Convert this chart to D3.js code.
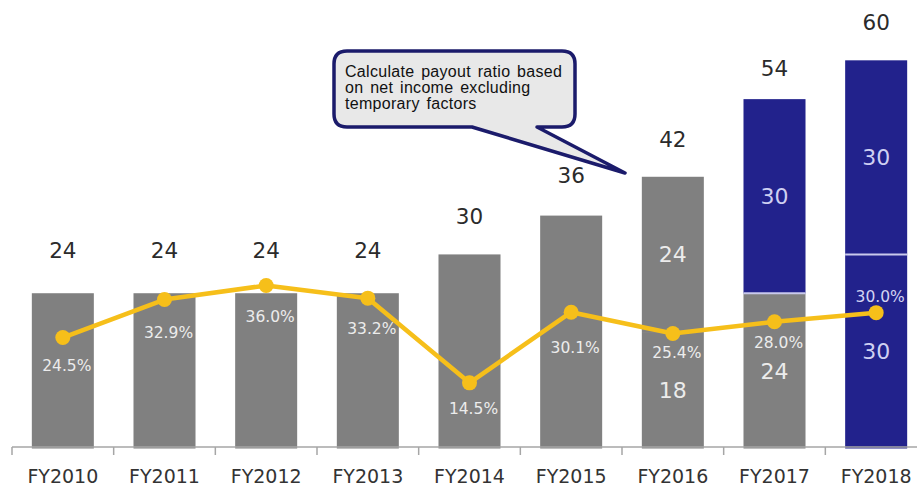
<!DOCTYPE html>
<html>
<head>
<meta charset="utf-8">
<script src="https://cdn.jsdelivr.net/npm/d3@7/dist/d3.min.js"></script>
<style>
  html, body { margin: 0; padding: 0; background: #fff; }
  svg { display: block; }
</style>
</head>
<body>
<svg id="chart" width="917" height="488"></svg>
<script>
// ---------------- data ----------------
const categories = ["FY2010","FY2011","FY2012","FY2013","FY2014","FY2015","FY2016","FY2017","FY2018"];
const lowerSegment = [24, 24, 24, 24, 30, 36, 18, 24, 30];
const upperSegment = [0, 0, 0, 0, 0, 0, 24, 30, 30];
const lowerType = ["old","old","old","old","old","old","old","old","new"];
const upperType = [null,null,null,null,null,null,"old","new","new"];
const totals = [24, 24, 24, 24, 30, 36, 42, 54, 60];
const payoutRatio = [24.5, 32.9, 36.0, 33.2, 14.5, 30.1, 25.4, 28.0, 30.0];
const payoutLabels = ["24.5%","32.9%","36.0%","33.2%","14.5%","30.1%","25.4%","28.0%","30.0%"];
const calloutLines = ["Calculate payout ratio based", "on net income excluding", "temporary factors"];

// ---------------- layout / style ----------------
const totalLabelGap = [35, 35, 35, 35, 30, 33, 30, 23, 30];
const pctLabelDy = [28, 33, 31, 30, 26, 35, 19, 21, -16];
const colors = { old: "#808080", new: "#22228c" };
const innerText = { old: "#ececec", new: "#cfd0f2" };
const lineColor = "#f6bf1a";

const svg = d3.select("#chart");
const x = d3.scaleBand().domain(categories).range([12, 927]).paddingInner(0.39).paddingOuter(0.195);
const y = d3.scaleLinear().domain([0, 66]).range([448.5, 21.5]);
const yp = d3.scaleLinear().domain([0, 94.3]).range([448.5, 21.5]);
const step = x.step(), bw = x.bandwidth();
const axisY = 447;

const rows = categories.map((c, i) => ({
  c, i, lo: lowerSegment[i], up: upperSegment[i], lt: lowerType[i], ut: upperType[i],
  total: totals[i], p: payoutRatio[i], pl: payoutLabels[i]
}));

// bars
const bars = svg.append("g");
rows.forEach(d => {
  bars.append("rect")
    .attr("x", x(d.c)).attr("width", bw)
    .attr("y", y(d.lo)).attr("height", y(0) - y(d.lo))
    .attr("fill", colors[d.lt]);
  if (d.up > 0) {
    bars.append("rect")
      .attr("x", x(d.c)).attr("width", bw)
      .attr("y", y(d.lo + d.up)).attr("height", y(d.lo) - y(d.lo + d.up))
      .attr("fill", colors[d.ut]);
    if (d.ut === "new") {
      bars.append("line")
        .attr("x1", x(d.c)).attr("x2", x(d.c) + bw)
        .attr("y1", y(d.lo)).attr("y2", y(d.lo))
        .attr("stroke", "#c9c9ec").attr("stroke-width", 2);
    }
  }
});

// axis
const axisG = svg.append("g");
axisG.append("line").attr("x1", 12).attr("x2", 917).attr("y1", axisY).attr("y2", axisY)
  .attr("stroke", "#a6a6a6").attr("stroke-width", 1.5);
categories.forEach(c => {
  const bx = x(c) + bw / 2 - step / 2;
  axisG.append("line").attr("x1", bx).attr("x2", bx).attr("y1", axisY).attr("y2", axisY + 8)
    .attr("stroke", "#a6a6a6").attr("stroke-width", 1.5);
});
const ax = svg.append("g").attr("transform", `translate(0,${axisY})`)
  .call(d3.axisBottom(x).tickSize(0).tickPadding(0));
ax.select(".domain").remove();
ax.selectAll("text")
  .attr("y", 36).attr("dy", null)
  .attr("font-family", "DejaVu Sans, Verdana, sans-serif")
  .attr("font-size", 19).attr("fill", "#333");

// total labels
svg.append("g").selectAll("text").data(rows).join("text")
  .attr("x", d => x(d.c) + bw / 2)
  .attr("y", d => y(d.total) - totalLabelGap[d.i])
  .attr("text-anchor", "middle")
  .attr("font-family", "DejaVu Sans, Verdana, sans-serif")
  .attr("font-size", 21.5).attr("fill", "#2b2b2b")
  .text(d => d.total);

// inner segment labels (stacked bars)
const inner = svg.append("g");
rows.filter(d => d.up > 0).forEach(d => {
  [[0, d.lo, d.lt], [d.lo, d.lo + d.up, d.ut]].forEach(([a, b, t]) => {
    inner.append("text")
      .attr("x", x(d.c) + bw / 2)
      .attr("y", (y(a) + y(b)) / 2)
      .attr("dy", "0.36em")
      .attr("text-anchor", "middle")
      .attr("font-family", "DejaVu Sans, Verdana, sans-serif")
      .attr("font-size", 22).attr("fill", innerText[t])
      .text(b - a);
  });
});

// payout ratio line
const cx = d => x(d.c) + bw / 2;
svg.append("path").datum(rows)
  .attr("d", d3.line().x(cx).y(d => yp(d.p)))
  .attr("fill", "none").attr("stroke", lineColor).attr("stroke-width", 4.5)
  .attr("stroke-linejoin", "round");
svg.append("g").selectAll("circle").data(rows).join("circle")
  .attr("cx", cx).attr("cy", d => yp(d.p)).attr("r", 7.5).attr("fill", lineColor);

// payout labels (clipped to bars: light text on white is invisible anyway)
const clip = svg.append("defs").append("clipPath").attr("id", "barsClip");
rows.forEach(d => {
  clip.append("rect").attr("x", x(d.c)).attr("width", bw)
    .attr("y", y(d.total)).attr("height", y(0) - y(d.total));
});
svg.append("g").attr("clip-path", "url(#barsClip)")
  .selectAll("text").data(rows).join("text")
  .attr("x", d => cx(d) + 4)
  .attr("y", d => yp(d.p) + pctLabelDy[d.i])
  .attr("dy", "0.36em")
  .attr("text-anchor", "middle")
  .attr("font-family", "DejaVu Sans, Verdana, sans-serif")
  .attr("font-size", 15.5)
  .attr("fill", d => d.i === 8 ? "#d4d4f2" : "#ececec")
  .text(d => d.pl);

// callout
const call = svg.append("g");
const bx0 = 334, by0 = 51, bw0 = 241, bh0 = 76, r0 = 13;
const tip = [625, 173];
const pb1 = 472, pb2 = 537;
const pathD = [
  `M${bx0 + r0},${by0}`,
  `H${bx0 + bw0 - r0}`,
  `Q${bx0 + bw0},${by0} ${bx0 + bw0},${by0 + r0}`,
  `V${by0 + bh0 - r0}`,
  `Q${bx0 + bw0},${by0 + bh0} ${bx0 + bw0 - r0},${by0 + bh0}`,
  `H${pb2}`,
  `L${tip[0]},${tip[1]}`,
  `L${pb1},${by0 + bh0}`,
  `H${bx0 + r0}`,
  `Q${bx0},${by0 + bh0} ${bx0},${by0 + bh0 - r0}`,
  `V${by0 + r0}`,
  `Q${bx0},${by0} ${bx0 + r0},${by0}`,
  "Z"
].join(" ");
call.append("path").attr("d", pathD)
  .attr("fill", "#e8e8e8").attr("stroke", "#1b1b6b").attr("stroke-width", 3.5)
  .attr("stroke-linejoin", "round");
call.selectAll("text").data(calloutLines).join("text")
  .attr("x", 345).attr("y", (d, i) => 77 + i * 16)
  .attr("font-family", "Liberation Sans, Arial, sans-serif")
  .attr("font-size", 16).attr("fill", "#111")
  .attr("letter-spacing", 0.3).attr("word-spacing", 2)
  .text(d => d);
</script>
</body>
</html>
